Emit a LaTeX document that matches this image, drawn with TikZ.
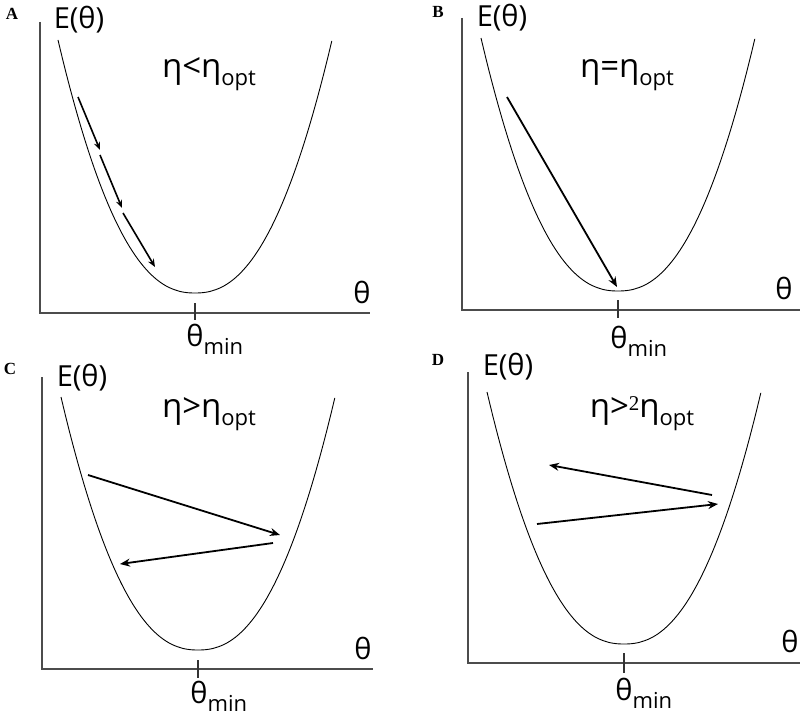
\documentclass[tikz,border=0pt]{standalone}
\usepackage{fontspec}
\setmainfont{Open Sans}
\newfontfamily\panelfont{Liberation Serif}
\usetikzlibrary{arrows.meta}
\newcommand\bigtxt{\fontsize{29}{29}\selectfont}
\newcommand\etatxt{\fontsize{33}{33}\selectfont}
\newcommand\lowsub[1]{\raisebox{-8pt}{\fontsize{22}{22}\selectfont #1}}
\begin{document}
\begin{tikzpicture}[x=1pt,y=-1pt,
  axis/.style={draw=black!70, line width=1.4pt},
  bowl/.style={draw=black, line width=0.9pt},
  arr/.style={draw=black, line width=1.8pt, -{Stealth[length=10pt,width=8pt]}},
  smallarr/.style={draw=black, line width=1.6pt, -{Stealth[length=8pt,width=6.5pt]}},
  ticks/.style={draw=black!80, line width=1.6pt},
  panel/.style={font=\panelfont\bfseries\fontsize{17}{17}\selectfont, inner sep=0pt},
  lab/.style={font=\bigtxt, inner sep=0pt},
  etalab/.style={font=\etatxt, inner sep=0pt},
]
\useasboundingbox[fill=white] (0,0) rectangle (800,717);

% ---------- Panel A ----------
\node[panel] (pA) at (12,14) {A};
\draw[axis] (40,22) -- (40,313) -- (370,313);
\draw[bowl] plot[domain=-1:1, samples=100, smooth] ({195+137*\x},{293-253*abs(\x)^2.3});
\draw[ticks] (195,303) -- (195,320);
\node[lab] (EA) at (79,20) {E(θ)};
\node[lab, anchor=base] (thA) at (362,303) {θ};
\node[lab, anchor=base] (tmA) at (195,346) {θ\rlap{\lowsub{min}}};
\node[etalab] (etaA) at (209,74) {η<η\lowsub{opt}};
\coordinate (a1s) at (78,97);  \coordinate (a1e) at (100,150);
\coordinate (a2s) at (100,155); \coordinate (a2e) at (122,208);
\coordinate (a3s) at (123,213); \coordinate (a3e) at (155,267);
\draw[smallarr] (a1s) -- (a1e);
\draw[smallarr] (a2s) -- (a2e);
\draw[smallarr] (a3s) -- (a3e);

% ---------- Panel B ----------
\node[panel] (pB) at (438,12) {B};
\draw[axis] (462,18) -- (462,310) -- (800,310);
\draw[bowl] plot[domain=-1:1, samples=100, smooth] ({618+137*\x},{291-253*abs(\x)^2.3});
\draw[ticks] (618,300) -- (618,318);
\node[lab] (EB) at (502,18) {E(θ)};
\node[lab, anchor=base] (thB) at (784,299) {θ};
\node[lab, anchor=base] (tmB) at (619,348) {θ\rlap{\lowsub{min}}};
\node[etalab] (etaB) at (627,75) {η=η\lowsub{opt}};
\coordinate (b1s) at (507,97); \coordinate (b1e) at (617,287);
\draw[arr] (b1s) -- (b1e);

% ---------- Panel C ----------
\node[panel] (pC) at (10,369) {C};
\draw[axis] (42,377) -- (42,669) -- (373,669);
\draw[bowl] plot[domain=-1:1, samples=100, smooth] ({198+137*\x},{650-253*abs(\x)^2.3});
\draw[ticks] (198,660) -- (198,678);
\node[lab] (EC) at (82,378) {E(θ)};
\node[lab, anchor=base] (thC) at (363,659) {θ};
\node[lab, anchor=base] (tmC) at (199,703) {θ\rlap{\lowsub{min}}};
\node[etalab] (etaC) at (209,414) {η>η\lowsub{opt}};
\coordinate (c1s) at (88,475);  \coordinate (c1e) at (280,535);
\coordinate (c2s) at (273,543); \coordinate (c2e) at (120,564);
\draw[arr] (c1s) -- (c1e);
\draw[arr] (c2s) -- (c2e);

% ---------- Panel D ----------
\node[panel] (pD) at (438,360) {D};
\draw[axis] (468,372) -- (468,663) -- (800,663);
\draw[bowl] plot[domain=-1:1, samples=100, smooth] ({624+137*\x},{644-252*abs(\x)^2.3});
\draw[ticks] (624,653) -- (624,673);
\node[lab] (ED) at (508,367) {E(θ)};
\node[lab, anchor=base] (thD) at (790,652) {θ};
\node[lab, anchor=base] (tmD) at (624,700) {θ\rlap{\lowsub{min}}};
\node[etalab] (etaD) at (642,414) {η>\raisebox{7pt}{\panelfont\fontsize{21}{21}\selectfont 2}η\lowsub{opt}};
\coordinate (d1s) at (712,495); \coordinate (d1e) at (549,465);
\coordinate (d2s) at (537,524); \coordinate (d2e) at (718,504);
\draw[arr] (d1s) -- (d1e);
\draw[arr] (d2s) -- (d2e);
\end{tikzpicture}
\end{document}
